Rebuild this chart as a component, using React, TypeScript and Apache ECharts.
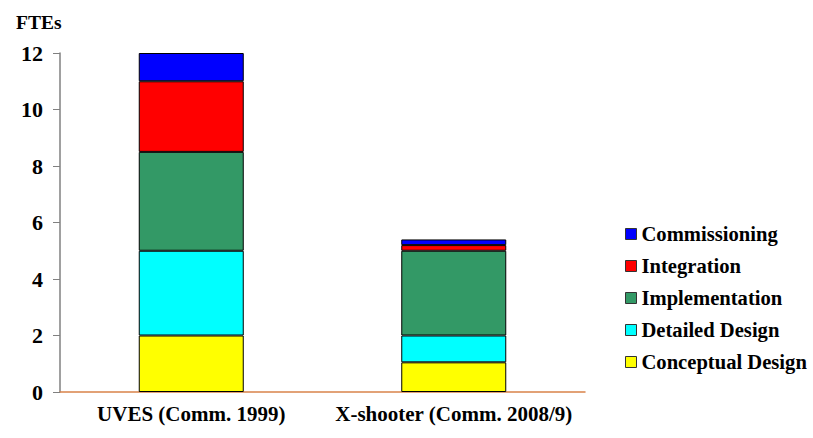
import React, { useEffect, useRef } from "react";
import * as echarts from "echarts";

const categories = ["UVES (Comm. 1999)", "X-shooter (Comm. 2008/9)"];
const seriesNames = ["Conceptual Design", "Detailed Design", "Implementation", "Integration", "Commissioning"];
const seriesColors = ["#ffff00", "#00ffff", "#339966", "#ff0000", "#0000ff"];
const conceptual = [2.0, 1.05];
const detailed = [3.0, 0.95];
const implementation = [3.5, 3.0];
const integration = [2.5, 0.2];
const commissioning = [1.0, 0.2];
const yTicks = [0, 2, 4, 6, 8, 10, 12];

const FONT = "\"Times New Roman\", \"Liberation Serif\", serif";

export default function App() {
  const ref = useRef<HTMLDivElement>(null);
  useEffect(() => {
    if (!ref.current) return;
    const chart = echarts.init(ref.current, null, { renderer: "svg" });
    const values = [conceptual, detailed, implementation, integration, commissioning];
    chart.setOption({
      animation: false,
      backgroundColor: "#ffffff",
      textStyle: { fontFamily: FONT },
      title: {
        text: "FTEs",
        left: 11,
        top: 7,
        textStyle: { fontFamily: FONT, fontWeight: "bold", fontSize: 19.5, color: "#000" },
      },
      legend: {
        orient: "vertical",
        left: 620,
        top: 218,
        itemWidth: 11,
        itemHeight: 11,
        itemGap: 10,
        icon: "rect",
        data: [...seriesNames].reverse(),
        itemStyle: { borderColor: "#333", borderWidth: 1 },
        textStyle: { fontFamily: FONT, fontWeight: "bold", fontSize: 20.6, color: "#000", lineHeight: 22 },
      },
      grid: { left: 60, right: 228, top: 53, bottom: 46, containLabel: false },
      xAxis: {
        type: "category",
        data: categories,
        axisLine: { show: true, lineStyle: { color: "#d9834a", width: 1.5 } },
        axisTick: { show: false },
        axisLabel: { interval: 0, fontFamily: FONT, fontWeight: "bold", fontSize: 21, lineHeight: 22, color: "#000", margin: 11 },
      },
      yAxis: {
        type: "value",
        min: yTicks[0],
        max: yTicks[yTicks.length - 1],
        interval: 2,
        splitLine: { show: false },
        axisLine: { show: true, lineStyle: { color: "#808080", width: 1.5 } },
        axisTick: { show: true, length: 7, lineStyle: { color: "#808080" } },
        axisLabel: { fontFamily: FONT, fontWeight: "bold", fontSize: 22, color: "#000", margin: 17 },
      },
      series: seriesNames.map((name, i) => ({
        name,
        type: "bar",
        stack: "total",
        barWidth: "40%",
        data: values[i],
        itemStyle: { color: seriesColors[i], borderColor: "#000", borderWidth: 1 },
      })),
    });
    return () => chart.dispose();
  }, []);
  return <div ref={ref} style={{ width: 813, height: 438, position: "absolute", left: 0, top: 0 }} />;
}
